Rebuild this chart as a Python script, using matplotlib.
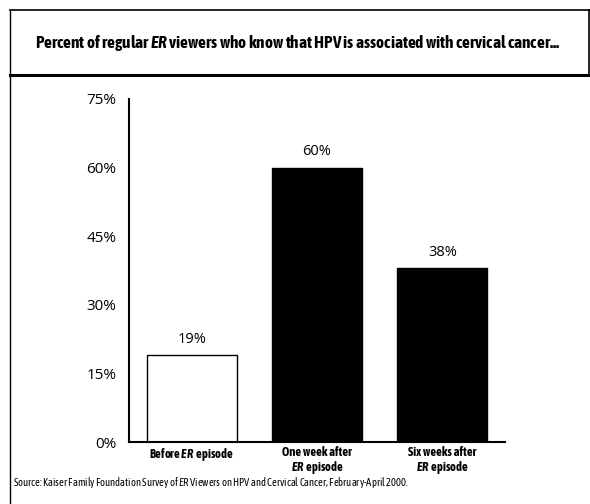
import matplotlib
matplotlib.use("Agg")
import matplotlib.pyplot as plt
from matplotlib.lines import Line2D

# data
categories = ["Before $\\mathbfit{ER}\\,$ episode",
              "One week after\n$\\mathbfit{ER}\\,$ episode",
              "Six weeks after\n$\\mathbfit{ER}\\,$ episode"]
values = [19, 60, 38]
bar_colors = ["white", "black", "black"]
yticks = [0, 15, 30, 45, 60, 75]

TITLE = ("Percent of regular $\\mathbfit{ER}$ viewers who know that HPV "
         "is associated with cervical cancer...")
SOURCE = ("Source: Kaiser Family Foundation Survey of $\\mathit{ER}$ Viewers on HPV and "
          "Cervical Cancer, February-April 2000.")

NARROW = ["Asap Condensed", "DejaVu Sans"]
plt.rcParams["font.family"] = ["Open Sans", "DejaVu Sans"]
plt.rcParams["mathtext.fontset"] = "custom"
plt.rcParams["mathtext.it"] = "Asap Condensed:italic"
plt.rcParams["mathtext.bfit"] = "Asap Condensed:italic:bold"
plt.rcParams["mathtext.rm"] = "Asap Condensed"

fig = plt.figure(figsize=(5.9, 5.04), dpi=100)
ax = fig.add_axes([0.2186, 0.123, 0.6373, 0.6806])

x = list(range(len(values)))
ax.bar(x, values, width=0.72, color=bar_colors, edgecolor="black", linewidth=1.0)
for xi, v in zip(x, values):
    ax.text(xi, v + 1.8, f"{v}%", ha="center", va="bottom", fontsize=10.5)

ax.set_xlim(-0.5, 2.5)
ax.set_ylim(0, 75)
ax.set_yticks(yticks)
ax.set_yticklabels([f"{t}%" for t in yticks], fontsize=11)
ax.set_xticks(x)
ax.set_xticklabels(categories, fontsize=9, fontweight="bold", family=NARROW,
                   linespacing=1.0)
ax.tick_params(axis="both", length=0)
ax.tick_params(axis="y", pad=9)
ax.tick_params(axis="x", pad=3)
for side in ["top", "right"]:
    ax.spines[side].set_visible(False)
for side in ["left", "bottom"]:
    ax.spines[side].set_linewidth(1.5)

# frame around title band
W, H = 590.0, 504.0
def fline(x0, y0, x1, y1, lw):
    fig.add_artist(Line2D([x0 / W, x1 / W], [1 - y0 / H, 1 - y1 / H],
                          transform=fig.transFigure, color="black", linewidth=lw))

fline(10, 10, 590, 10, 1.2)
fline(10, 75, 590, 75, 2.2)
fline(10, 10, 10, 504, 1.0)
fline(589, 10, 589, 75, 1.2)

fig.text(35 / W, 1 - 43 / H, TITLE, ha="left", va="center", fontsize=12.4,
         fontweight="bold", family=NARROW)
fig.text(13 / W, 1 - 483 / H, SOURCE, ha="left", va="center", fontsize=7.6,
         family=NARROW)

fig.savefig("out.png", dpi=100)
